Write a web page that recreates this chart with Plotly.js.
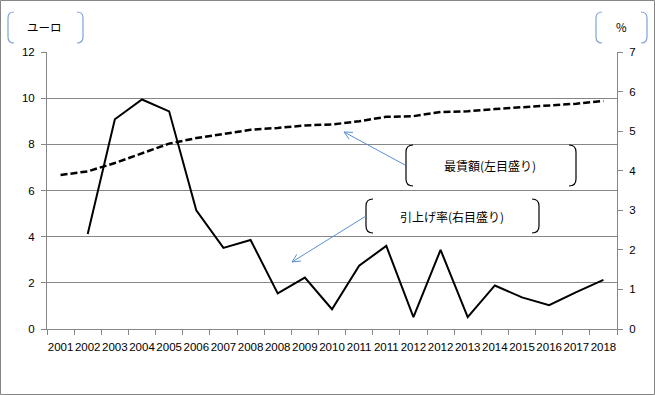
<!DOCTYPE html>
<html><head><meta charset="utf-8">
<script src="https://cdn.plot.ly/plotly-3.0.1.min.js"></script>
<style>html,body{margin:0;padding:0;background:#fff}#chart{width:655px;height:395px}</style>
</head><body><div id="chart"></div>
<script>
// ---- data ----
const years = ['2001','2002','2003','2004','2005','2006','2007','2008','2008','2009','2010','2011','2011','2012','2012','2013','2014','2015','2016','2017','2018'];
const minWage = [6.67,6.83,7.19,7.61,8.03,8.27,8.44,8.63,8.71,8.82,8.86,9.00,9.19,9.22,9.40,9.43,9.53,9.61,9.67,9.76,9.88];
const raiseRate = [null,2.4,5.3,5.8,5.5,3.0,2.05,2.25,0.9,1.3,0.5,1.6,2.1,0.3,2.0,0.3,1.1,0.8,0.6,0.93,1.24];
const leftUnit = 'ユーロ';
const rightUnit = '%';
const wageLabel = '最賃額(左目盛り)';
const rateLabel = '引上げ率(右目盛り)';

// ---- geometry helpers (pixel -> paper) ----
const W = 655, H = 395;
const M = {l:47, r:38, t:52, b:66};
const PW = W - M.l - M.r, PH = H - M.t - M.b;
const px = x => (x - M.l) / PW;
const py = y => (H - M.b - y) / PH;
const GRAY = '#868686';
const BLUE = '#5b8fd4';
const LIGHTBLUE = '#7fa3d8';

function bracketShapes(x0, x1, y0, y1, r, color) {
  const left = `M ${px(x0+r)} ${py(y0)} Q ${px(x0)} ${py(y0)} ${px(x0)} ${py(y0+r)} L ${px(x0)} ${py(y1-r)} Q ${px(x0)} ${py(y1)} ${px(x0+r)} ${py(y1)}`;
  const right = `M ${px(x1-r)} ${py(y0)} Q ${px(x1)} ${py(y0)} ${px(x1)} ${py(y0+r)} L ${px(x1)} ${py(y1-r)} Q ${px(x1)} ${py(y1)} ${px(x1-r)} ${py(y1)}`;
  return [left, right].map(p => ({type:'path', xref:'paper', yref:'paper', path:p, line:{color, width:1.2}}));
}
function arrowShape(tx, ty, hx, hy, color) {
  const ang = Math.atan2(ty - hy, tx - hx);
  const L = 9, a = 0.45;
  const p1 = [hx + L*Math.cos(ang + a), hy + L*Math.sin(ang + a)];
  const p2 = [hx + L*Math.cos(ang - a), hy + L*Math.sin(ang - a)];
  const path = `M ${px(tx)} ${py(ty)} L ${px(hx)} ${py(hy)} M ${px(p1[0])} ${py(p1[1])} L ${px(hx)} ${py(hy)} L ${px(p2[0])} ${py(p2[1])}`;
  return {type:'path', xref:'paper', yref:'paper', path, line:{color, width:1}};
}
function label(text, cx, cy, size) {
  return {text, xref:'paper', yref:'paper', x:px(cx), y:py(cy), xanchor:'center', yanchor:'middle',
          showarrow:false, font:{family:'Noto Sans CJK JP', size:size||11, color:'#000'}};
}

const idx = years.map((_, i) => i);
const tickFont = {family:'Liberation Sans', size:11.5, color:'#000'};

const traces = [
  {x: idx, y: minWage, type:'scatter', mode:'lines', yaxis:'y', name: wageLabel,
   line:{color:'#000', width:2.5, dash:'7px,3px'}, hoverinfo:'y'},
  {x: idx, y: raiseRate, type:'scatter', mode:'lines', yaxis:'y2', name: rateLabel,
   line:{color:'#000', width:2}, connectgaps:false, hoverinfo:'y'}
];

const shapes = [
  {type:'rect', xref:'paper', yref:'paper', x0:px(0.5), x1:px(654.5), y0:py(0.5), y1:py(394.5), line:{color:GRAY, width:1}},
  ...bracketShapes(8, 83, 12, 43, 6, LIGHTBLUE),
  ...bracketShapes(596, 647, 12, 43, 6, LIGHTBLUE),
  ...bracketShapes(406, 576, 145, 186, 7, '#000'),
  ...bracketShapes(366, 539, 199, 233, 7, '#000'),
  arrowShape(405, 165, 344, 132, BLUE),
  arrowShape(366, 216, 292, 262, BLUE)
];

const annotations = [
  label(leftUnit, 44, 27, 11.5),
  label(rightUnit, 621, 27, 11.5),
  label(wageLabel, 490, 165, 12),
  label(rateLabel, 452, 216, 12)
];

const layout = {
  width: W, height: H, margin: M,
  paper_bgcolor:'#fff', plot_bgcolor:'#fff', showlegend:false,
  font:{family:'Liberation Sans', size:11, color:'#000'},
  xaxis:{range:[-0.5, idx.length - 0.5], tickmode:'array', tickvals: idx, ticktext: years, tickangle:0,
         ticks:'', showline:true, linecolor:GRAY, showgrid:false, zeroline:false, tickfont:tickFont,
         ticklabelstandoff:7,
         minor:{ticks:'outside', ticklen:5, tickcolor:GRAY, tick0:-0.5, dtick:1, showgrid:false}},
  yaxis:{range:[0,12], tick0:0, dtick:2, showgrid:true, gridcolor:GRAY, gridwidth:1, showline:true, linecolor:GRAY,
         ticks:'outside', ticklen:5, tickcolor:GRAY, zeroline:false, tickfont:tickFont, ticklabelstandoff:4},
  yaxis2:{range:[0,7], tick0:0, dtick:1, overlaying:'y', side:'right', showgrid:false, showline:true, linecolor:GRAY,
          ticks:'outside', ticklen:5, tickcolor:GRAY, zeroline:false, tickfont:tickFont, ticklabelstandoff:4},
  shapes, annotations
};

Plotly.newPlot('chart', traces, layout, {displayModeBar:false, staticPlot:true});
</script></body></html>
